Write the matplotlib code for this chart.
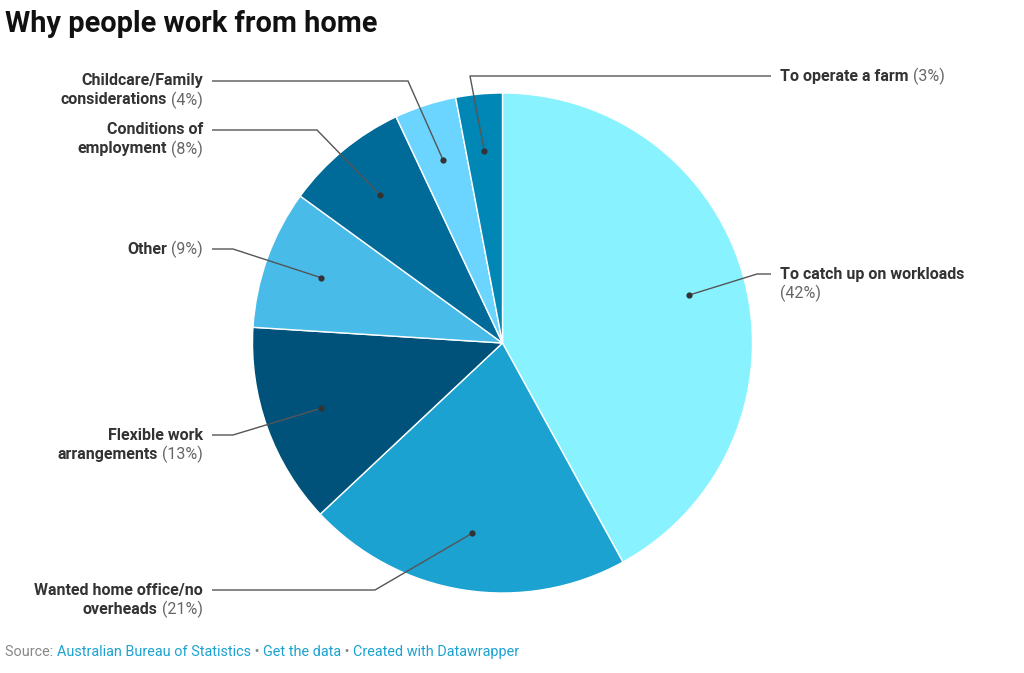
import matplotlib.pyplot as plt
import numpy as np

# data, clockwise from 12 o'clock
categories = [
    'To catch up on workloads\n',
    'Wanted home office/no\noverheads',
    'Flexible work\narrangements',
    'Other',
    'Conditions of\nemployment',
    'Childcare/Family\nconsiderations',
    'To operate a farm',
]
shares = [42, 21, 13, 9, 8, 4, 3]
colors = ['#88F3FF', '#1BA2D0', '#00527A', '#48BBE8', '#006A99', '#6BD5FF', '#0087B5']

# label layout in pixel coords (y from top): side, first line y, elbow x
label_side = ['right', 'left', 'left', 'left', 'left', 'left', 'right']
label_y = [274, 590, 435, 249, 130, 81, 76]
elbow_x = [757, 375, 233, 233, 317, 408, 470]

W, H = 1024, 673
FONT = 'Roboto'
plt.rcParams['font.family'] = [FONT, 'DejaVu Sans']

fig = plt.figure(figsize=(W / 100, H / 100), dpi=100)
ax = fig.add_axes([0, 0, 1, 1])

cx, cy, R = 502.5, H - 343, 250
wedges, _ = ax.pie(shares, colors=colors, startangle=90, counterclock=False,
                   radius=R, center=(cx, cy),
                   wedgeprops=dict(edgecolor='white', linewidth=1.0))

ax.set_xlim(0, W)
ax.set_ylim(0, H)
ax.set_aspect('equal')
ax.axis('off')

fs = 11.5
dark = '#333333'
grey = '#666666'
line_c = '#555555'
lh = 19  # line height px

for w, cat, pct, side, ly, ex in zip(wedges, categories, shares, label_side, label_y, elbow_x):
    mid = np.deg2rad((w.theta1 + w.theta2) / 2)
    dx = cx + 0.77 * R * np.cos(mid)
    dy = cy + 0.77 * R * np.sin(mid)
    y = H - ly
    if side == 'left':
        lx, tx, ha = 212, 203, 'right'
    else:
        lx, tx, ha = 771, 780, 'left'
    ax.plot([lx, ex, dx], [y, y, dy], color=line_c, lw=1.0, solid_capstyle='butt')
    ax.plot(dx, dy, 'o', color=dark, ms=4.5, mec='none')

    lines = cat.split('\n')
    pct_txt = f'({pct}%)'
    for i, ln in enumerate(lines):
        yy = y - i * lh
        last = i == len(lines) - 1
        if not last:
            ax.text(tx, yy, ln, ha=ha, va='center', fontsize=fs, fontweight='bold', color=dark)
            continue
        if ln == '':
            ax.text(tx, yy, pct_txt, ha=ha, va='center', fontsize=fs, color=grey)
        elif side == 'left':
            p = ax.text(tx, yy, pct_txt, ha='right', va='center', fontsize=fs, color=grey)
            ax.annotate(ln, xy=(0, yy), xycoords=(p, 'data'), xytext=(-3, 0),
                        textcoords='offset points', ha='right', va='center',
                        fontsize=fs, fontweight='bold', color=dark)
        else:
            b = ax.text(tx, yy, ln, ha='left', va='center', fontsize=fs, fontweight='bold', color=dark)
            ax.annotate(pct_txt, xy=(1, yy), xycoords=(b, 'data'), xytext=(3, 0),
                        textcoords='offset points', ha='left', va='center',
                        fontsize=fs, color=grey)

# title
ax.text(5, H - 24, 'Why people work from home', ha='left', va='center',
        fontsize=20.8, fontweight='bold', color='#111111')

# source line
src_parts = [('Source: ', '#888888'), ('Australian Bureau of Statistics', '#1BA2D0'),
             (' \u2022 ', '#888888'), ('Get the data', '#1BA2D0'),
             (' \u2022 ', '#888888'), ('Created with Datawrapper', '#1BA2D0')]
prev = None
for txt, col in src_parts:
    if prev is None:
        prev = ax.text(5, H - 652, txt, ha='left', va='center', fontsize=10.4, color=col)
    else:
        prev = ax.annotate(txt, xy=(1, H - 652), xycoords=(prev, 'data'),
                           ha='left', va='center', fontsize=10.4, color=col)

fig.savefig('out.png', dpi=100)
